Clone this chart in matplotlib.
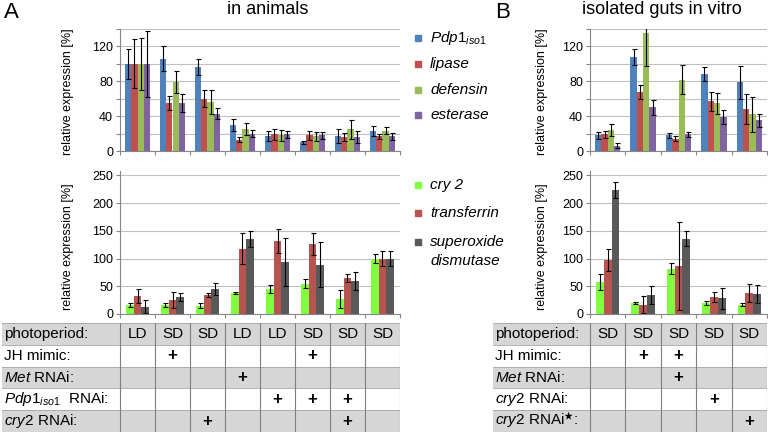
import matplotlib.pyplot as plt
import numpy as np
from matplotlib.patches import Rectangle

plt.rcParams['font.family'] = ['Liberation Sans', 'DejaVu Sans']
plt.rcParams['mathtext.fontset'] = 'custom'
plt.rcParams['mathtext.rm'] = 'Liberation Sans'
plt.rcParams['mathtext.it'] = 'Liberation Sans:italic'
plt.rcParams['mathtext.fallback'] = 'stixsans'

# colours of the gene series
colors_top = ['#4F81BD', '#C0504D', '#9BBB59', '#8064A2']
colors_bot = ['#80FF40', '#B85450', '#595959']

# A, in animals: Pdp1iso1, lipase, defensin, esterase
a_top = [[100, 106, 96, 30, 17, 10, 17, 23],
         [100, 55, 60, 13, 19, 18, 16, 17],
         [100, 79, 56, 25, 18, 17, 25, 23],
         [100, 55, 43, 20, 19, 18, 16, 17]]
a_top_err = [[17, 14, 9, 7, 6, 2, 8, 6],
             [28, 8, 10, 3, 6, 5, 5, 3],
             [30, 13, 14, 7, 6, 5, 11, 4],
             [38, 10, 6, 4, 4, 4, 7, 4]]
# A: cry 2, transferrin, superoxide dismutase
a_bot = [[16, 16, 15, 38, 45, 55, 27, 100],
         [32, 25, 34, 118, 132, 126, 65, 100],
         [13, 30, 45, 135, 94, 89, 59, 100]]
a_bot_err = [[3, 3, 4, 2, 7, 8, 16, 8],
             [13, 15, 4, 28, 22, 20, 7, 13],
             [12, 7, 11, 15, 43, 41, 16, 13]]

# B, isolated guts in vitro
b_top = [[18, 108, 18, 88, 79],
         [19, 68, 14, 57, 48],
         [24, 135, 82, 55, 42],
         [6, 50, 19, 39, 35]]
b_top_err = [[4, 9, 3, 8, 19],
             [4, 8, 3, 11, 17],
             [7, 37, 17, 12, 20],
             [3, 9, 3, 8, 8]]
b_bot = [[58, 20, 82, 20, 17],
         [98, 17, 87, 31, 38],
         [224, 34, 136, 28, 36]]
b_bot_err = [[15, 2, 10, 3, 2],
             [20, 16, 79, 9, 17],
             [15, 16, 14, 19, 17]]

# treatment tables
rows_a = ['photoperiod:', 'JH mimic:', r'$\mathit{Met}$ RNAi:',
          r'$\mathit{Pdp1}_{\mathit{iso1}}$  RNAi:', r'$\mathit{cry2}$ RNAi:']
photo_a = ['LD', 'SD', 'SD', 'LD', 'LD', 'SD', 'SD', 'SD']
marks_a = [[0, 1, 0, 0, 0, 1, 0, 0],
           [0, 0, 0, 1, 0, 0, 0, 0],
           [0, 0, 0, 0, 1, 1, 1, 0],
           [0, 0, 1, 0, 0, 0, 1, 0]]
rows_b = ['photoperiod:', 'JH mimic:', r'$\mathit{Met}$ RNAi:',
          r'$\mathit{cry2}$ RNAi:', r'$\mathit{cry2}$ RNAi$^{\bigstar}$:']
photo_b = ['SD', 'SD', 'SD', 'SD', 'SD']
marks_b = [[0, 1, 1, 0, 0],
           [0, 0, 1, 0, 0],
           [0, 0, 0, 1, 0],
           [0, 0, 0, 0, 1]]

W, H = 768, 440
fig = plt.figure(figsize=(W / 100, H / 100), dpi=100)


def rect(x0, y0, x1, y1):
    # pixel box (top-left origin) -> figure fraction
    return [x0 / W, 1 - y1 / H, (x1 - x0) / W, (y1 - y0) / H]


def bars(ax, vals, errs, colors, width, ytop, major, minor):
    n = len(vals)
    x = np.arange(len(vals[0]))
    for i in range(n):
        off = (i - (n - 1) / 2) * width
        ax.bar(x + off, vals[i], width, color=colors[i], yerr=errs[i], zorder=2,
               error_kw=dict(ecolor='black', elinewidth=0.8, capsize=1.8, capthick=0.8))
    ax.set_xlim(-0.5, len(x) - 0.5)
    ax.set_ylim(0, ytop)
    ax.set_yticks(np.arange(0, ytop, major))
    ax.set_yticks(np.arange(0, ytop + 0.1, minor), minor=True)
    ax.yaxis.grid(True, which='both', color='#BFBFBF', lw=0.8)
    ax.set_axisbelow(True)
    ax.set_xticks(np.arange(len(x) + 1) - 0.5)
    ax.set_xticklabels([])
    ax.tick_params(axis='both', which='both', length=3, width=0.8, color='#868686',
                   labelsize=9, pad=2)
    for s in ['top', 'right']:
        ax.spines[s].set_visible(False)
    for s in ['left', 'bottom']:
        ax.spines[s].set_color('#868686')
        ax.spines[s].set_linewidth(0.8)


def table(ax, labels, photo, marks, label_w):
    ncol = len(photo)
    nrow = len(labels)
    ax.set_xlim(-label_w, ncol)
    ax.set_ylim(nrow, 0)
    ax.axis('off')
    for r in range(nrow):
        if r % 2 == 0:
            ax.add_patch(Rectangle((-label_w, r), label_w + ncol, 1, fc='#D6D6D6', ec='none'))
        ax.text(-label_w + 0.05, r + 0.5, labels[r], fontsize=11, ha='left', va='center')
    for r in range(nrow + 1):
        ax.plot([-label_w, ncol], [r, r], color='#A6A6A6', lw=0.6)
    for c in range(ncol + 1):
        ax.plot([c, c], [0, nrow], color='#7F7F7F', lw=0.8)
    for c in range(ncol):
        ax.text(c + 0.5, 0.5, photo[c], fontsize=11, ha='center', va='center')
        for r in range(len(marks)):
            if marks[r][c]:
                ax.text(c + 0.5, r + 1.5, '+', fontsize=12, fontweight='bold',
                        ha='center', va='center')


ax1 = fig.add_axes(rect(120, 29, 400, 151))
bars(ax1, a_top, a_top_err, colors_top, 0.18, 140, 40, 20)
ax2 = fig.add_axes(rect(120, 171, 400, 314))
bars(ax2, a_bot, a_bot_err, colors_bot, 0.22, 258, 50, 50)
ax3 = fig.add_axes(rect(590, 29, 767, 151))
bars(ax3, b_top, b_top_err, colors_top, 0.18, 140, 40, 20)
ax4 = fig.add_axes(rect(590, 171, 767, 314))
bars(ax4, b_bot, b_bot_err, colors_bot, 0.22, 258, 50, 50)

ta = fig.add_axes(rect(2, 323, 400, 432))
table(ta, rows_a, photo_a, marks_a, 118 / 35)
tb = fig.add_axes(rect(493, 323, 767, 432))
table(tb, rows_b, photo_b, marks_b, 97 / 35.4)

# y labels
for x, y in [(68, 92), (68, 247), (542, 92), (542, 247)]:
    fig.text(x / W, 1 - y / H, 'relative expression [%]', fontsize=9, rotation=90,
             ha='center', va='center')

# titles
fig.text(4 / W, 1 - 13 / H, 'A', fontsize=16, ha='left', va='center')
fig.text(268 / W, 1 - 10 / H, 'in animals', fontsize=13, ha='center', va='center')
fig.text(495 / W, 1 - 13 / H, 'B', fontsize=16, ha='left', va='center')
fig.text(662 / W, 1 - 10 / H, 'isolated guts in vitro', fontsize=13, ha='center', va='center')


# legends
def legend_item(x, y, color, label):
    fig.add_artist(Rectangle(((x - 3) / W, 1 - (y + 3) / H), 6 / W, 6 / H,
                             color=color, transform=fig.transFigure))
    fig.text((x + 12) / W, 1 - y / H, label, fontsize=11, style='italic',
             ha='left', va='center')


top_labels = [r'$\mathit{Pdp1}_{\mathit{iso1}}$', 'lipase', 'defensin', 'esterase']
for lab, c, y in zip(top_labels, colors_top, [38, 64, 90, 115]):
    legend_item(418, y, c, lab)
bot_labels = ['cry 2', 'transferrin', 'superoxide']
for lab, c, y in zip(bot_labels, colors_bot, [185, 213, 242]):
    legend_item(418, y, c, lab)
fig.text(430 / W, 1 - 261 / H, 'dismutase', fontsize=11, style='italic', ha='left', va='center')

fig.savefig('out.png', dpi=100)
